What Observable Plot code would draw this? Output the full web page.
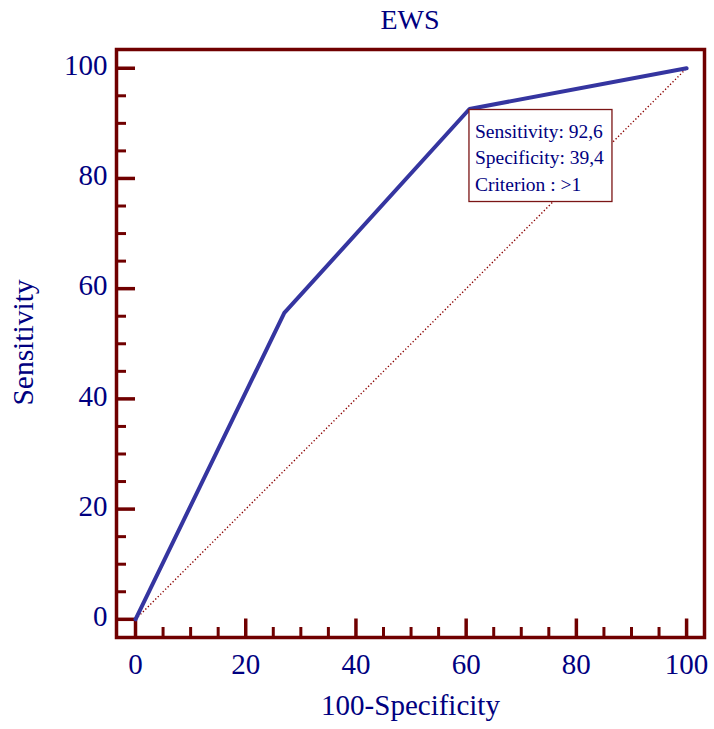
<!DOCTYPE html>
<html>
<head>
<meta charset="utf-8">
<script src="https://cdn.jsdelivr.net/npm/d3@7"></script>
<script src="https://cdn.jsdelivr.net/npm/@observablehq/plot@0.6"></script>
<style>
  html, body { margin: 0; padding: 0; background: #fff; }
  #title {
    height: 38px; line-height: 40px;
    margin-left: 116px; width: 588px; text-align: center;
    font-family: "Liberation Serif", "Times New Roman", serif;
    font-size: 28px; color: #000080;
  }
  #chart svg { display: block; overflow: visible; }
</style>
</head>
<body>
<div id="title"></div>
<div id="chart"></div>
<script>
// ROC curve for the EWS score
const chartTitle = "EWS";
const xLabel = "100-Specificity";
const yLabel = "Sensitivity";

// operating points: 100 - specificity (x) against sensitivity (y)
const falsePositiveRate = [0, 27.0, 60.6, 100];
const sensitivity = [0, 55.6, 92.6, 100];

// reference (chance) diagonal
const chanceX = [0, 100];
const chanceY = [0, 100];

// highlighted criterion
const selectedSensitivity = 92.6;
const selectedSpecificity = 39.4;
const selectedCriterion = ">1";

// tick values
const majorTicks = [0, 20, 40, 60, 80, 100];
const minorTicks = [5, 10, 15, 25, 30, 35, 45, 50, 55, 65, 70, 75, 85, 90, 95];

const FONT = '"Liberation Serif", "Times New Roman", serif';
const FRAME = "#700000";
const INK = "#000080";
const CURVE = "#3535a0";

document.getElementById("title").textContent = chartTitle;

const W = 714, H = 691;
const mL = 116, mR = 10, mT = 11, mB = 92;
const innerW = W - mL - mR, innerH = H - mT - mB;

const curve = falsePositiveRate.map((x, i) => ({x, y: sensitivity[i]}));
const chance = chanceX.map((x, i) => ({x, y: chanceY[i]}));
const fmt = v => v.toFixed(1).replace(".", ",");
const selected = [{
  x: 100 - selectedSpecificity,
  y: selectedSensitivity,
  lines: [
    `Sensitivity: ${fmt(selectedSensitivity)}`,
    `Specificity: ${fmt(selectedSpecificity)}`,
    `Criterion : ${selectedCriterion}`
  ]
}];

// white box with the criterion readout, hung from the selected point
function callout(index, scales, values) {
  const g = d3.create("svg:g");
  for (const i of index) {
    const px = values.x[i], py = values.y[i];
    g.append("rect")
      .attr("x", px).attr("y", py + 1)
      .attr("width", 143).attr("height", 92)
      .attr("fill", "#fff").attr("stroke", "#7b1515").attr("stroke-width", 1.3);
    selected[i].lines.forEach((t, k) => {
      g.append("text")
        .attr("x", px + 6).attr("y", py + 29 + k * 26.5)
        .attr("text-anchor", "start")
        .attr("font-family", FONT).attr("font-size", 19.5)
        .attr("fill", INK).text(t);
    });
  }
  return g.node();
}

const chart = Plot.plot({
  width: W, height: H,
  marginLeft: mL, marginRight: mR, marginTop: mT, marginBottom: mB,
  x: {domain: [-3.45, 103.25], axis: null},
  y: {domain: [-3.3, 103.4], axis: null},
  style: {fontFamily: FONT, background: "#fff"},
  marks: [
    Plot.line(chance, {x: "x", y: "y", stroke: "#8b0000", strokeWidth: 1.4, strokeDasharray: "1.3 2.2", strokeLinecap: "butt"}),
    // inward ticks on the bottom edge
    Plot.ruleX(majorTicks, {x: d => d, stroke: FRAME, strokeWidth: 3.5, insetTop: innerH - 18.5}),
    Plot.ruleX(minorTicks, {x: d => d, stroke: FRAME, strokeWidth: 3, insetTop: innerH - 10}),
    // inward ticks on the left edge
    Plot.ruleY(majorTicks, {y: d => d, stroke: FRAME, strokeWidth: 3.5, insetRight: innerW - 19}),
    Plot.ruleY(minorTicks, {y: d => d, stroke: FRAME, strokeWidth: 3, insetRight: innerW - 10}),
    Plot.frame({stroke: FRAME, strokeWidth: 3.5}),
    // tick labels
    Plot.text(majorTicks, {x: d => d, text: d => String(d), frameAnchor: "bottom", lineAnchor: "bottom", dy: 36, fontSize: 29, fill: INK}),
    Plot.text(majorTicks, {y: d => d, text: d => String(d), frameAnchor: "left", textAnchor: "end", dx: -9, dy: -2.5, fontSize: 29, fill: INK}),
    // axis titles
    Plot.text([xLabel], {text: d => d, frameAnchor: "bottom", lineAnchor: "bottom", dy: 77, fontSize: 29, fill: INK}),
    Plot.text([yLabel], {text: d => d, frameAnchor: "left", textAnchor: "middle", rotate: -90, lineAnchor: "bottom", dx: -84, dy: -1, fontSize: 29.5, fill: INK}),
    // ROC curve
    Plot.line(curve, {x: "x", y: "y", stroke: CURVE, strokeWidth: 4, strokeLinejoin: "miter", strokeLinecap: "round"}),
    Plot.dot(selected, {x: "x", y: "y", r: 0, render: callout})
  ]
});

document.getElementById("chart").append(chart);
</script>
</body>
</html>
